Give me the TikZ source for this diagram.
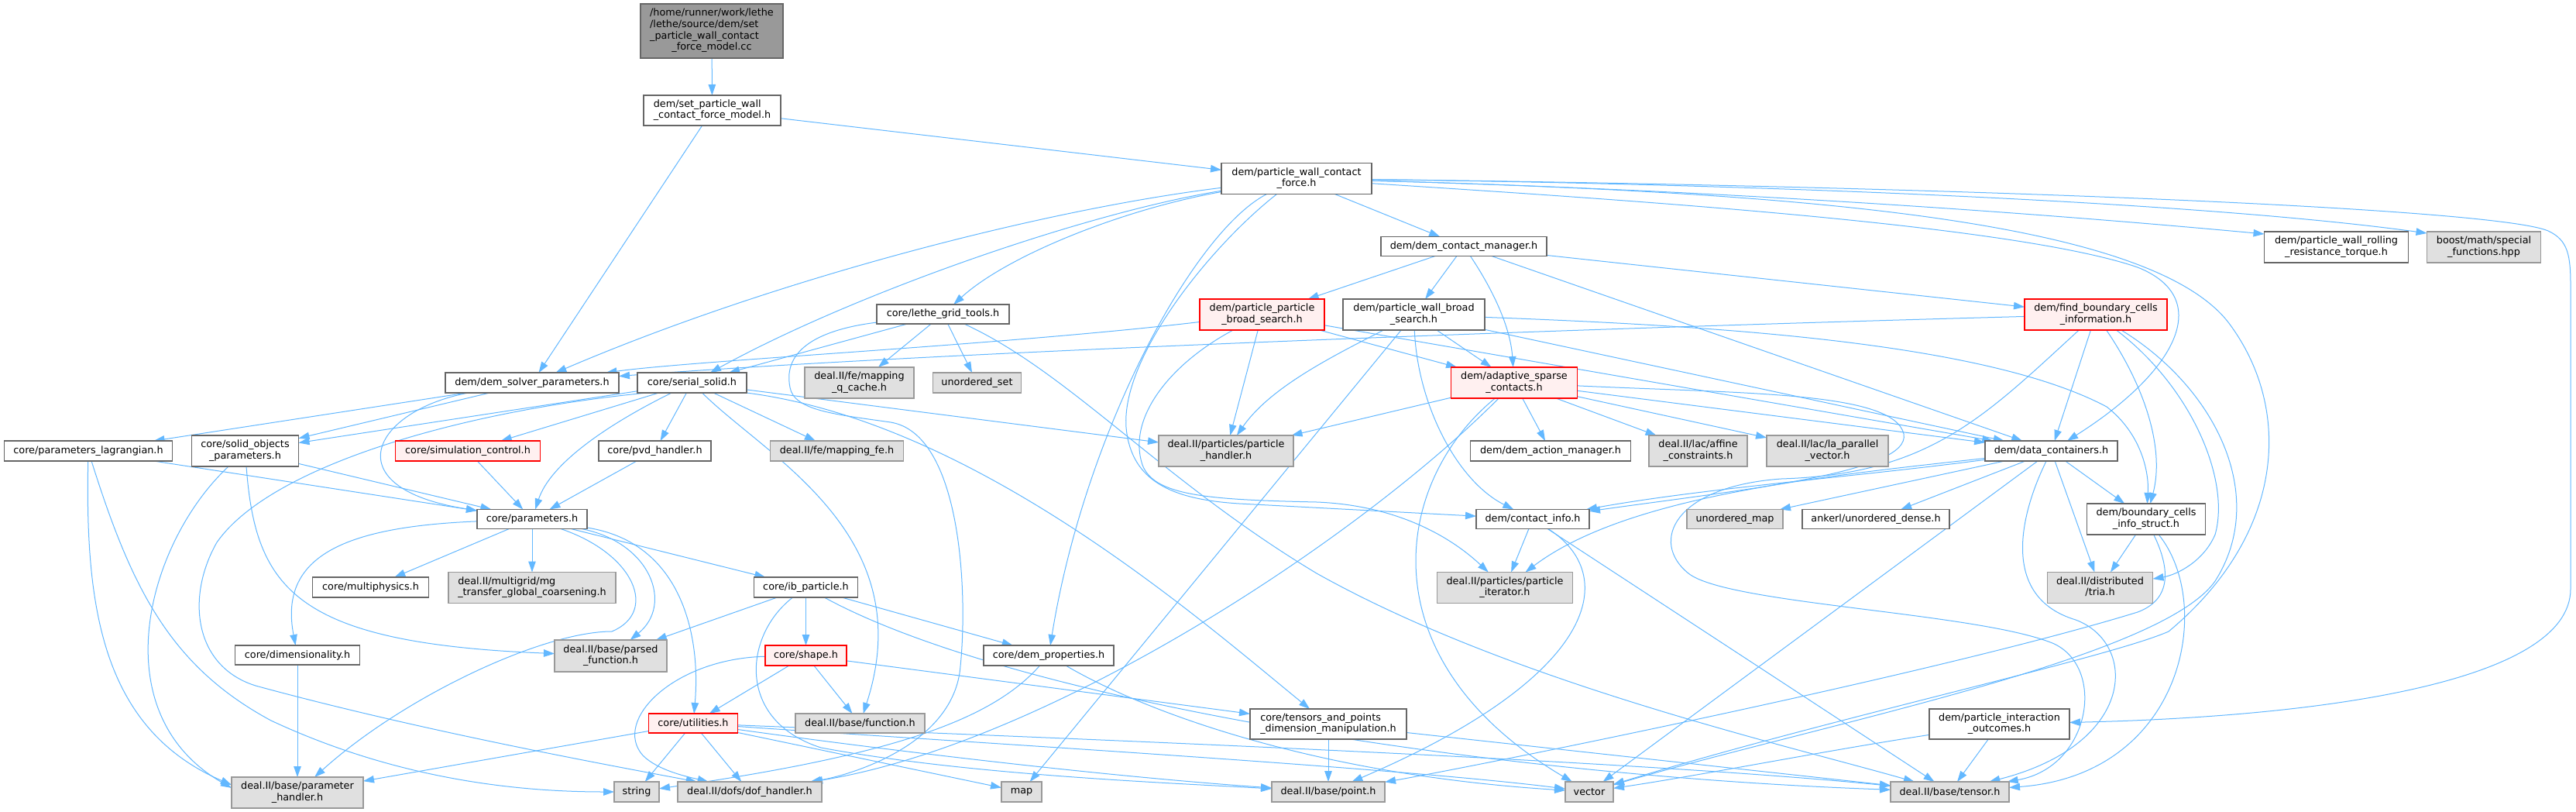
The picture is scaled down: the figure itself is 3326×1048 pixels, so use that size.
\documentclass[tikz,border=0pt]{standalone}
\usepackage{fontspec}
\setmainfont{DejaVu Sans}
\usetikzlibrary{arrows.meta}
\definecolor{edgec}{HTML}{63B8FF}
\definecolor{bordc}{HTML}{666666}
\definecolor{extb}{HTML}{999999}
\definecolor{extf}{HTML}{E0E0E0}
\definecolor{redf}{HTML}{FFF0F0}
\definecolor{redb}{HTML}{FF0000}
\definecolor{rootf}{HTML}{999999}
\pgfdeclarelayer{back}
\pgfdeclarelayer{edges}
\pgfsetlayers{back,edges,main}
\newcommand\lbtwo[2]{\begin{tabular}{@{}l@{}}#1\\\multicolumn{1}{@{}c@{}}{#2}\end{tabular}}
\tikzset{
  nbox/.style={draw=bordc, fill=white, line width=1.1pt, inner sep=0pt, outer sep=0pt, text=black, font=\fontsize{12.8}{14.7}\selectfont},
  extbox/.style={nbox, draw=extb, fill=extf},
  redbox/.style={nbox, draw=redb, fill=redf},
  rootbox/.style={nbox, fill=rootf},
  sz/.style 2 args={minimum width=#1pt, minimum height=#2pt},
  dep/.style={draw=edgec, line width=1pt, -{Triangle[length=14pt,width=9.5pt]}}
}
\begin{document}
\begin{tikzpicture}[x=1pt,y=-1pt]
\useasboundingbox (0,0) rectangle (3326,1048);
\begin{pgfonlayer}{back}
\fill[white] (0,0) rectangle (3326,1048);
\end{pgfonlayer}
% ---------- nodes ----------
\node[rootbox,sz={184}{70}] (root) at (919,40) {\begin{tabular}{@{}l@{}}/home/runner/work/lethe\\/lethe/source/dem/set\\\_particle\_wall\_contact\\\multicolumn{1}{@{}c@{}}{\_force\_model.cc}\end{tabular}};
\node[nbox,sz={177}{39}] (spw) at (919.5,142.5) {\lbtwo{dem/set\_particle\_wall}{\_contact\_force\_model.h}};
\node[nbox,sz={194}{40}] (pwcf) at (1674,230.5) {\lbtwo{dem/particle\_wall\_contact}{\_force.h}};
\node[nbox,sz={224}{26}] (dsp) at (687,494) {dem/dem\_solver\_parameters.h};
\node[nbox,sz={141}{26}] (ss) at (893.5,494) {core/serial\_solid.h};
\node[nbox,sz={171}{25}] (lgt) at (1217.5,405.5) {core/lethe\_grid\_tools.h};
\node[extbox,sz={141}{40}] (mqc) at (1109.5,494) {\lbtwo{deal.II/fe/mapping}{\_q\_cache.h}};
\node[extbox,sz={114}{26}] (uset) at (1261.5,494) {unordered\_set};
\node[redbox,sz={161}{40}] (ppbs) at (1629.5,406) {\lbtwo{dem/particle\_particle}{\_broad\_search.h}};
\node[nbox,sz={214}{25}] (dcm) at (1890,318) {dem/dem\_contact\_manager.h};
\node[nbox,sz={183}{40}] (pwbs) at (1825.5,406) {\lbtwo{dem/particle\_wall\_broad}{\_search.h}};
\node[redbox,sz={163}{40}] (asc) at (1955,494) {\lbtwo{dem/adaptive\_sparse}{\_contacts.h}};
\node[redbox,sz={184}{40}] (fbci) at (2706,406) {\lbtwo{dem/find\_boundary\_cells}{\_information.h}};
\node[nbox,sz={186}{40}] (rrt) at (3016.5,319) {\lbtwo{dem/particle\_wall\_rolling}{\_resistance\_torque.h}};
\node[extbox,sz={147}{40}] (bsf) at (3207,319) {\lbtwo{boost/math/special}{\_functions.hpp}};
\node[nbox,sz={217}{26}] (plag) at (114,582) {core/parameters\_lagrangian.h};
\node[nbox,sz={138}{40}] (sop) at (316.5,582) {\lbtwo{core/solid\_objects}{\_parameters.h}};
\node[redbox,sz={187}{26}] (sc) at (604,582) {core/simulation\_control.h};
\node[nbox,sz={145}{26}] (pvd) at (845.5,582) {core/pvd\_handler.h};
\node[extbox,sz={172}{26}] (mfe) at (1080.5,582) {deal.II/fe/mapping\_fe.h};
\node[extbox,sz={174}{40}] (ph) at (1583,582) {\lbtwo{deal.II/particles/particle}{\_handler.h}};
\node[nbox,sz={207}{26}] (dam) at (2002,582) {dem/dem\_action\_manager.h};
\node[extbox,sz={127}{40}] (aff) at (2192.5,582) {\lbtwo{deal.II/lac/affine}{\_constraints.h}};
\node[extbox,sz={157}{40}] (lapv) at (2359.5,582) {\lbtwo{deal.II/lac/la\_parallel}{\_vector.h}};
\node[nbox,sz={171}{26}] (dc) at (2648.5,582) {dem/data\_containers.h};
\node[nbox,sz={142}{25}] (par) at (687,670) {core/parameters.h};
\node[nbox,sz={146}{25}] (ci) at (1979,670) {dem/contact\_info.h};
\node[extbox,sz={124}{25}] (umap) at (2240,670) {unordered\_map};
\node[nbox,sz={190}{25}] (ank) at (2422,670) {ankerl/unordered\_dense.h};
\node[nbox,sz={153}{40}] (bcis) at (2771,670) {\lbtwo{dem/boundary\_cells}{\_info\_struct.h}};
\node[nbox,sz={150}{26}] (mph) at (478.5,758) {core/multiphysics.h};
\node[extbox,sz={216}{40}] (mg) at (687,758.5) {\lbtwo{deal.II/multigrid/mg}{\_transfer\_global\_coarsening.h}};
\node[nbox,sz={134}{26}] (ib) at (1040.5,758) {core/ib\_particle.h};
\node[extbox,sz={175}{40}] (pit) at (1943,758.5) {\lbtwo{deal.II/particles/particle}{\_iterator.h}};
\node[extbox,sz={136}{40}] (tria) at (2711.5,758.5) {\lbtwo{deal.II/distributed}{/tria.h}};
\node[nbox,sz={161}{25}] (dim) at (384,845.5) {core/dimensionality.h};
\node[extbox,sz={145}{41}] (pf) at (788.5,846.5) {\lbtwo{deal.II/base/parsed}{\_function.h}};
\node[redbox,sz={105}{26}] (shape) at (1040.5,846) {core/shape.h};
\node[nbox,sz={168}{26}] (demp) at (1354,846) {core/dem\_properties.h};
\node[nbox,sz={202}{39}] (tpd) at (1715,934.5) {\lbtwo{core/tensors\_and\_points}{\_dimension\_manipulation.h}};
\node[nbox,sz={181}{39}] (pio) at (2581.5,934.5) {\lbtwo{dem/particle\_interaction}{\_outcomes.h}};
\node[redbox,sz={115}{25}] (util) at (895,933.5) {core/utilities.h};
\node[extbox,sz={167}{25}] (func) at (1110.5,933.5) {deal.II/base/function.h};
\node[extbox,sz={170}{40}] (pha) at (384,1023) {\lbtwo{deal.II/base/parameter}{\_handler.h}};
\node[extbox,sz={58}{26}] (str) at (822,1022) {string};
\node[extbox,sz={186}{26}] (dof) at (968,1022) {deal.II/dofs/dof\_handler.h};
\node[extbox,sz={52}{26}] (map) at (1319,1022) {map};
\node[extbox,sz={146}{26}] (pt) at (1715,1022) {deal.II/base/point.h};
\node[extbox,sz={62}{26}] (vec) at (2052,1022) {vector};
\node[extbox,sz={153}{26}] (ten) at (2517.5,1022) {deal.II/base/tensor.h};
% ---------- edges ----------
\begin{pgfonlayer}{edges}
\draw[dep] (root) -- (spw);
\draw[dep] (spw) -- (pwcf);
\draw[dep] (spw) -- (dsp);
% pwcf
\draw[dep] (pwcf) .. controls (1350,270) and (1000,360) .. (dsp);
\draw[dep] (pwcf) .. controls (1400,275) and (1100,380) .. (ss);
\draw[dep] (pwcf) .. controls (1450,270) and (1300,330) .. (lgt);
\draw[dep] (pwcf) .. controls (1540,300) and (1400,560) .. (demp);
\draw[dep] (pwcf) .. controls (1560,320) and (1440,470) .. (1455,560) .. controls (1465,625) and (1520,645) .. (1600,650) -- (ci);
\draw[dep] (pwcf) -- (dcm);
\draw[dep] (pwcf) .. controls (2100,258) and (2600,290) .. (2760,345) .. controls (2860,385) and (2810,480) .. (dc);
\draw[dep] (pwcf) .. controls (2300,248) and (2780,280) .. (2880,420) .. controls (2960,530) and (2950,690) .. (2800,815) .. controls (2720,850) and (2350,930) .. (vec);
\draw[dep] (pwcf) .. controls (2200,245) and (2600,272) .. ([yshift=-3pt]rrt.north west);
\draw[dep] (pwcf) .. controls (2300,238) and (2850,262) .. ([yshift=-2pt]bsf.north west);
\draw[dep] (pwcf) .. controls (2500,240) and (3220,268) .. (3290,298) .. controls (3316,310) and (3319,330) .. (3319,370) -- (3319,760) .. controls (3319,880) and (3000,925) .. (pio);
% dcm
\draw[dep] (dcm) -- (ppbs);
\draw[dep] (dcm) -- (pwbs);
\draw[dep] (dcm) .. controls (1925,370) and (1950,420) .. (asc);
\draw[dep] (dcm) -- (fbci);
\draw[dep] (dcm) -- (dc);
% ppbs
\draw[dep] (ppbs) .. controls (1300,445) and (900,465) .. (dsp);
\draw[dep] (ppbs) -- (asc);
\draw[dep] (ppbs) -- (ph);
\draw[dep] (ppbs) -- (dc);
\draw[dep] (ppbs) .. controls (1510,470) and (1455,540) .. (1475,600) .. controls (1490,640) and (1560,645) .. (1700,648) .. controls (1800,652) and (1870,690) .. (pit);
% pwbs
\draw[dep] (pwbs) -- (asc);
\draw[dep] (pwbs) .. controls (1720,460) and (1640,500) .. (ph);
\draw[dep] (pwbs) -- (map);
\draw[dep] (pwbs) .. controls (1830,520) and (1880,620) .. (ci);
\draw[dep] (pwbs) -- (dc);
\draw[dep] (pwbs) .. controls (2200,420) and (2560,440) .. (2720,525) .. controls (2765,560) and (2775,610) .. (bcis);
% asc
\draw[dep] (asc) -- (ph);
\draw[dep] (asc) -- (dam);
\draw[dep] (asc) -- (aff);
\draw[dep] (asc) -- (lapv);
\draw[dep] (asc) -- (dc);
\draw[dep] (asc) .. controls (2250,508) and (2445,505) .. (2458,560) .. controls (2468,610) and (2250,632) .. (ci);
\draw[dep] (asc) .. controls (1750,700) and (1350,960) .. (dof);
\draw[dep] (asc) .. controls (1800,620) and (1760,850) .. (vec);
% ci
\draw[dep] (ci) -- (pit);
\draw[dep] (ci) .. controls (2090,740) and (2070,870) .. (pt);
\draw[dep] (ci) -- (ten);
% dc
\draw[dep] (dc) .. controls (2400,615) and (2200,630) .. (ci);
\draw[dep] (dc) .. controls (2350,615) and (2100,640) .. (pit);
\draw[dep] (dc) -- (umap);
\draw[dep] (dc) -- (ank);
\draw[dep] (dc) -- (bcis);
\draw[dep] (dc) -- (tria);
\draw[dep] (dc) .. controls (2610,660) and (2580,770) .. (2680,800) .. controls (2760,830) and (2760,960) .. (ten);
\draw[dep] (dc) -- (vec);
% fbci
\draw[dep] (fbci) .. controls (2000,425) and (1200,455) .. (dsp);
\draw[dep] (fbci) -- (dc);
\draw[dep] (fbci) .. controls (2770,500) and (2795,580) .. (bcis);
\draw[dep] (fbci) .. controls (2830,500) and (2880,620) .. (2860,690) .. controls (2845,725) and (2810,742) .. (tria);
\draw[dep] (fbci) .. controls (2860,500) and (2930,640) .. (2860,750) .. controls (2790,850) and (2350,935) .. (vec);
\draw[dep] (fbci) .. controls (2560,540) and (2490,612) .. (2300,618) .. controls (2160,628) and (2130,700) .. (2180,740) .. controls (2230,780) and (2550,790) .. (2650,830) .. controls (2720,860) and (2700,990) .. (ten);
% bcis
\draw[dep] (bcis) -- (tria);
\draw[dep] (bcis) .. controls (2805,740) and (2800,775) .. (2760,790) .. controls (2500,870) and (1900,990) .. (pt);
\draw[dep] (bcis) .. controls (2860,780) and (2820,1000) .. (ten);
% pio, tpd
\draw[dep] (pio) .. controls (2350,970) and (2200,1000) .. (vec);
\draw[dep] (pio) -- (ten);
\draw[dep] (tpd) -- (pt);
\draw[dep] (tpd) -- (ten);
% lgt
\draw[dep] (lgt) -- (ss);
\draw[dep] (lgt) .. controls (1060,425) and (1010,450) .. (1020,500) .. controls (1025,530) and (1080,535) .. (1150,545) .. controls (1240,560) and (1250,760) .. (1240,860) .. controls (1232,960) and (1100,1000) .. (dof);
\draw[dep] (lgt) -- (mqc);
\draw[dep] (lgt) -- (uset);
\draw[dep] (lgt) .. controls (1380,480) and (1500,620) .. (1700,740) .. controls (1950,880) and (2300,960) .. (ten);
% ss
\draw[dep] (ss) -- (sop);
\draw[dep] (ss) -- (sc);
\draw[dep] (ss) -- (pvd);
\draw[dep] (ss) -- (mfe);
\draw[dep] (ss) .. controls (780,550) and (710,600) .. (par);
\draw[dep] (ss) -- (ph);
\draw[dep] (ss) .. controls (990,590) and (1190,690) .. (func);
\draw[dep] (ss.south east) .. controls (1260,545) and (1550,800) .. (tpd);
\draw[dep] ([xshift=12pt]ss.south west) .. controls (600,530) and (350,600) .. (280,700) .. controls (240,770) and (250,860) .. (330,885) .. controls (550,945) and (800,990) .. (dof);
% dsp
\draw[dep] (dsp) -- (plag);
\draw[dep] (dsp) -- (sop);
\draw[dep] ([xshift=-82pt]dsp.south) .. controls (480,530) and (430,630) .. (par);
% plag, sop
\draw[dep] (plag) -- (par);
\draw[dep] (plag) .. controls (110,780) and (130,940) .. ([yshift=10pt]pha.west);
\draw[dep] (plag) .. controls (170,760) and (220,860) .. (350,930) .. controls (500,1000) and (650,1022) .. (str);
\draw[dep] (sop) -- (par);
\draw[dep] (sop) .. controls (190,700) and (130,920) .. ([yshift=6pt]pha.west);
\draw[dep] (sop) .. controls (330,760) and (380,830) .. (pf);
\draw[dep] (sc) -- (par);
\draw[dep] (pvd) -- (par);
% par
\draw[dep] (par) .. controls (440,680) and (360,720) .. (dim);
\draw[dep] (par) -- (mph);
\draw[dep] (par) -- (mg);
\draw[dep] (par) .. controls (820,715) and (850,790) .. (790,815) .. controls (700,815) and (520,900) .. (pha);
\draw[dep] (par) .. controls (840,700) and (870,780) .. (pf);
\draw[dep] (par) -- (ib);
\draw[dep] (par) .. controls (880,700) and (905,820) .. (util);
\draw[dep] (dim) -- (pha);
% ib
\draw[dep] (ib) -- (pf);
\draw[dep] (ib) -- (shape);
\draw[dep] (ib) -- (demp);
\draw[dep] (ib) .. controls (960,820) and (950,930) .. (1060,965) .. controls (1250,1000) and (1500,1010) .. (pt);
\draw[dep] (ib) .. controls (1300,900) and (1900,1000) .. (ten);
% shape
\draw[dep] (shape) -- (util);
\draw[dep] (shape) -- (func);
\draw[dep] (shape) .. controls (870,850) and (790,930) .. (830,975) .. controls (850,995) and (890,1003) .. (dof);
\draw[dep] (shape) -- (tpd);
% util
\draw[dep] (util) -- (pha);
\draw[dep] (util) -- (str);
\draw[dep] (util) -- (dof);
\draw[dep] (util) -- (map);
\draw[dep] (util) .. controls (1100,962) and (1400,1000) .. (pt);
\draw[dep] (util) .. controls (1200,955) and (1800,990) .. (vec);
\draw[dep] (util) .. controls (1300,950) and (2100,980) .. (ten);
% demp
\draw[dep] (demp) .. controls (1280,930) and (1150,975) .. (str);
\draw[dep] (demp) .. controls (1480,920) and (1700,1000) .. (vec);
\end{pgfonlayer}
\end{tikzpicture}
\end{document}
